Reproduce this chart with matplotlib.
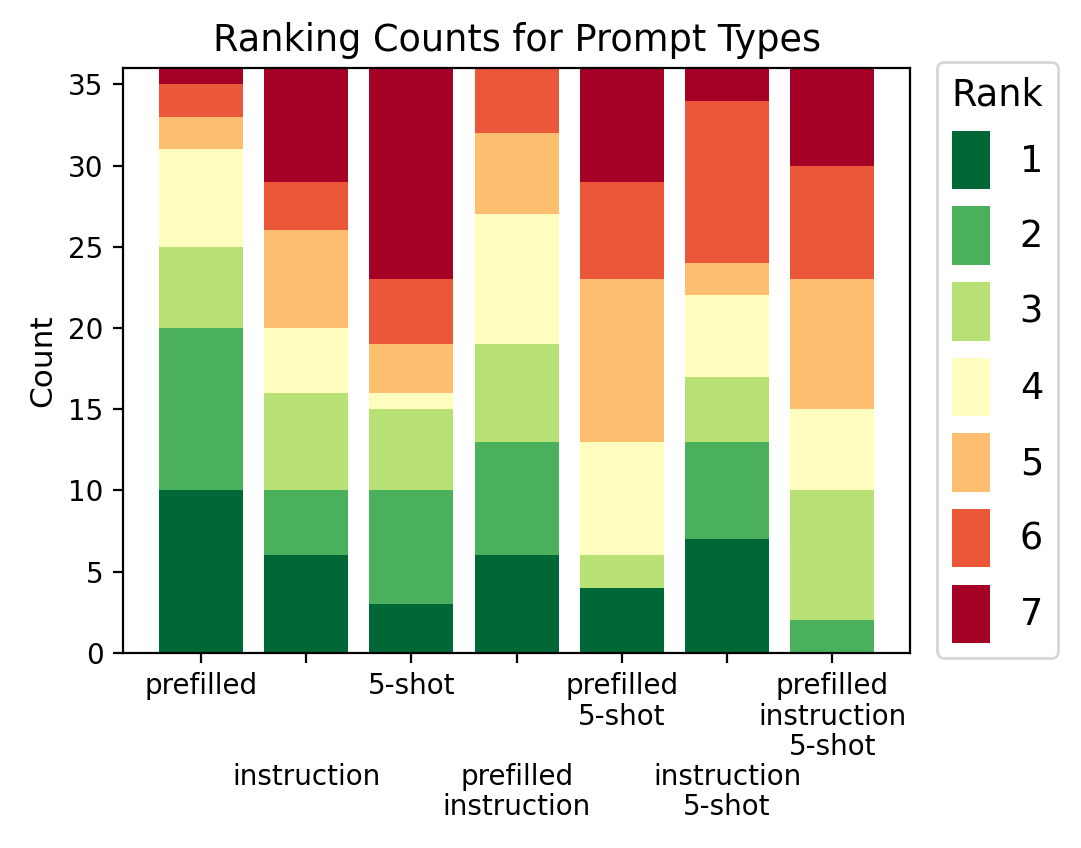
import matplotlib
matplotlib.use("Agg")
import matplotlib.pyplot as plt
import numpy as np

categories = ["prefilled", "instruction", "5-shot", "prefilled\ninstruction",
              "prefilled\n5-shot", "instruction\n5-shot", "prefilled\ninstruction\n5-shot"]
ranks = [1, 2, 3, 4, 5, 6, 7]
# counts[rank][category]
rank1 = [10, 6, 3, 6, 4, 7, 0]
rank2 = [10, 4, 7, 7, 0, 6, 2]
rank3 = [5, 6, 5, 6, 2, 4, 8]
rank4 = [6, 4, 1, 8, 7, 5, 5]
rank5 = [2, 6, 3, 5, 10, 2, 8]
rank6 = [2, 3, 4, 4, 6, 10, 7]
rank7 = [1, 7, 13, 0, 7, 2, 6]
counts = [rank1, rank2, rank3, rank4, rank5, rank6, rank7]

fig = plt.figure(figsize=(5.405, 4.24), dpi=200)
ax = fig.add_axes([0.1138, 0.2300, 0.842 - 0.1138, 0.9198 - 0.2300])

colors = plt.cm.RdYlGn_r(np.linspace(0, 1, len(ranks)))
x = np.arange(len(categories))
bottom = np.zeros(len(categories))
for r, vals, c in zip(ranks, counts, colors):
    ax.bar(x, vals, 0.8, bottom=bottom, color=c, label=str(r))
    bottom += np.array(vals)

ax.set_ylim(0, 36)
ax.set_xticks(x)
ax.set_xticklabels(categories, fontsize=10, linespacing=1.1)
for i, t in enumerate(ax.xaxis.get_major_ticks()):
    if i % 2 == 1:
        t.set_pad(36.2)
ax.tick_params(axis="y", labelsize=10)
ax.set_ylabel("Count", fontsize=11.2)
ax.set_title("Ranking Counts for Prompt Types", fontsize=13.2)

leg = ax.legend(title="Rank", loc="upper left", bbox_to_anchor=(1.034, 1.010),
                borderaxespad=0, fontsize=13.2, title_fontsize=13.2,
                handleheight=2.08, handlelength=1.05, labelspacing=0.465)

fig.savefig("out.png", dpi=200)
